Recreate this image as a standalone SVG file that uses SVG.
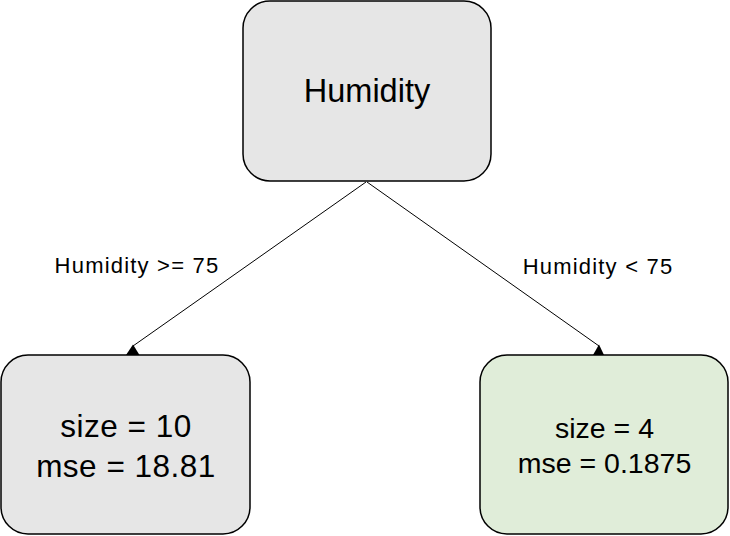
<svg xmlns="http://www.w3.org/2000/svg" width="730" height="536" viewBox="0 0 730 536">
  <style>
    .box { stroke: #000; stroke-width: 1.5; }
    .gray { fill: #e6e6e6; }
    .green { fill: #e0edd9; }
    text { font-family: "Liberation Sans", Arial, sans-serif; fill: #000; text-anchor: middle; }
    .edge { stroke: #000; stroke-width: 1; fill: none; }
    .head { fill: #000; }
  </style>
  <rect width="730" height="536" fill="#fff"/>
  <g id="connectors">
    <line class="edge" x1="366" y1="182" x2="133" y2="346"/>
    <polygon class="head" points="126,355 133,344.5 139.5,355"/>
    <line class="edge" x1="367" y1="182" x2="599" y2="346"/>
    <polygon class="head" points="593,355 599,344.5 604,355"/>
    <text x="137" y="273" font-size="22" letter-spacing="1.2">Humidity &gt;= 75</text>
    <text x="598" y="274" font-size="22" letter-spacing="1.2">Humidity &lt; 75</text>
  </g>
  <g id="node-root">
    <rect class="box gray" x="243" y="1" width="248" height="180" rx="27" ry="27"/>
    <text x="367" y="102" font-size="32.5">Humidity</text>
  </g>
  <g id="node-left">
    <rect class="box gray" x="1" y="355" width="249" height="179" rx="27" ry="27"/>
    <text x="126" y="437" font-size="31.5" letter-spacing="0.5">size = 10</text>
    <text x="126" y="477" font-size="31.5" letter-spacing="0.5">mse = 18.81</text>
  </g>
  <g id="node-right">
    <rect class="box green" x="480" y="355" width="248" height="179" rx="27" ry="27"/>
    <text x="604.5" y="438" font-size="28.5">size = 4</text>
    <text x="604.5" y="473" font-size="28.5">mse = 0.1875</text>
  </g>
</svg>
